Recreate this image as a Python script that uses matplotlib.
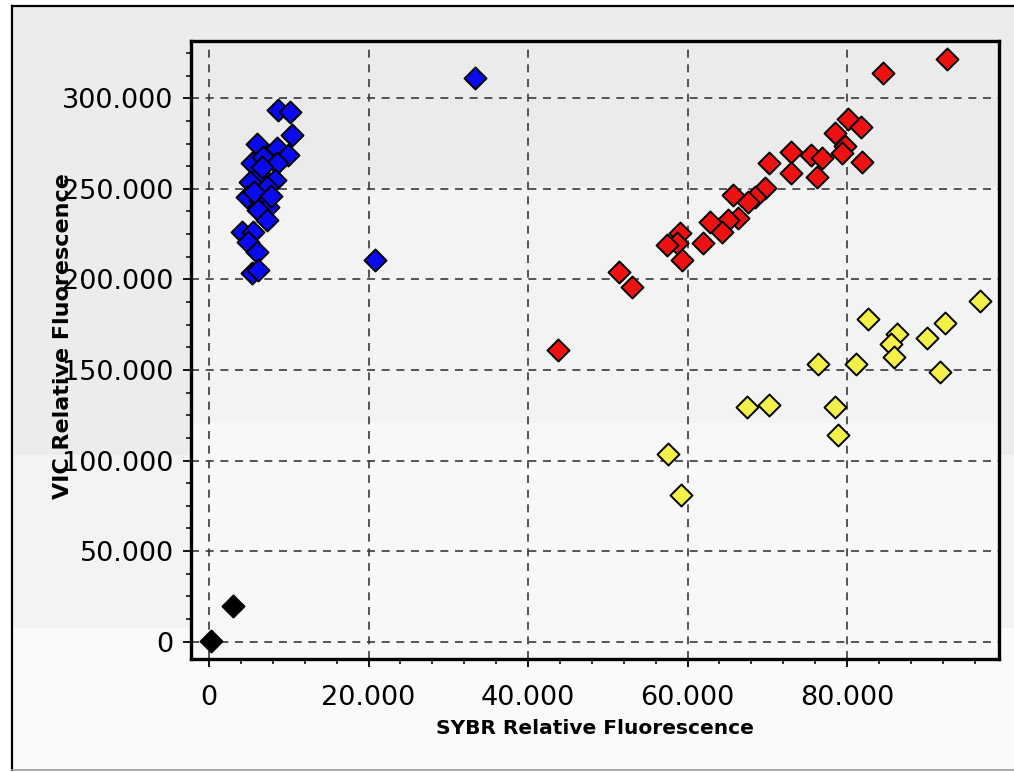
import numpy as np
import matplotlib
matplotlib.use("Agg")
import matplotlib.pyplot as plt
from matplotlib.patches import Rectangle
from matplotlib.lines import Line2D
from matplotlib.ticker import MultipleLocator, FuncFormatter

# SYBR (x) / VIC (y) relative fluorescence per cluster
ntc_x = [200, 3000]
ntc_y = [500, 19500]

vic_x = [8690, 10160, 10370, 5980, 8490, 9950, 5350, 6810, 8490, 6400,
         5140, 8280, 7230, 4730, 6400, 7440, 6190, 7230, 4100, 5560,
         4940, 5980, 5350, 6190, 5600, 6600, 7800, 20820, 33360]
vic_y = [293400, 292500, 279600, 275000, 272300, 268600, 264000, 267700, 264000, 257600,
         253900, 254800, 251100, 245600, 243800, 240100, 238300, 232700, 226300, 226300,
         220800, 215200, 203300, 205100, 248000, 262000, 246000, 210700, 311000]

het_x = [92500, 84560, 80170, 81720, 78500, 79770, 79350, 81930, 73000, 75440,
         76830, 73000, 76290, 70260, 69730, 68480, 67640, 65760, 66390, 65130,
         64300, 62830, 61990, 59060, 58640, 57390, 59270, 51350, 53030, 43820]
het_y = [321400, 314000, 288300, 283900, 280600, 273600, 269500, 264900, 270400, 268600,
         266800, 258800, 256300, 264000, 250200, 245600, 242800, 246500, 233700, 232700,
         226300, 231800, 219900, 225400, 219900, 218900, 210700, 204200, 195900, 161000]

fam_x = [96690, 82680, 92310, 86240, 85490, 90000, 85850, 76420, 81140, 91680,
         67410, 70260, 78500, 78920, 57590, 59140]
fam_y = [188200, 177900, 176100, 169800, 164300, 167400, 157000, 153300, 153300, 149000,
         129400, 130600, 129400, 114100, 103600, 81000]

W, H = 1014, 772
fig = plt.figure(figsize=(W / 100, H / 100), dpi=100)
fig.patch.set_facecolor("white")

# background bands of the panel
fx0 = 12 / W
for top, bot, col in [(6, 455, "#ececec"), (455, 628, "#f3f3f3"), (628, 770, "#fafafa")]:
    fig.patches.append(Rectangle((fx0, 1 - bot / H), 1 - fx0, (bot - top) / H,
                                 transform=fig.transFigure, facecolor=col,
                                 edgecolor="none", zorder=-10))
fig.lines.append(Line2D([fx0, fx0], [1 - 6 / H, 1 - 770 / H], transform=fig.transFigure,
                        color="black", lw=1.6))
fig.lines.append(Line2D([fx0, 1], [1 - 6 / H, 1 - 6 / H], transform=fig.transFigure,
                        color="black", lw=1.6))
fig.lines.append(Line2D([fx0, 1], [1 - 770 / H, 1 - 770 / H], transform=fig.transFigure,
                        color="#999999", lw=1.2))

ax = fig.add_axes([191 / W, 1 - 659 / H, 808 / W, 618 / H])
ax.set_facecolor("none")
for y0, y1, col in [(0.7638, 1.0, "#ebebeb"), (0.3819, 0.7638, "#f3f3f3"), (0.0, 0.3819, "#f8f8f8")]:
    ax.add_patch(Rectangle((0, y0), 1, y1 - y0, transform=ax.transAxes,
                           facecolor=col, edgecolor="none", zorder=0))

mk = dict(marker="D", s=125, edgecolors="black", linewidths=1.4, zorder=3)
ax.scatter(ntc_x, ntc_y, c="black", **mk)
ax.scatter(vic_x, vic_y, c="#0a0aee", **mk)
ax.scatter(het_x, het_y, c="#ee1111", **mk)
ax.scatter(fam_x, fam_y, c="#f4f04a", **mk)

ax.set_xlim(-2260, 99060)
ax.set_ylim(-9550, 331600)

ax.xaxis.set_major_locator(MultipleLocator(20000))
ax.xaxis.set_minor_locator(MultipleLocator(4000))
ax.yaxis.set_major_locator(MultipleLocator(50000))
ax.yaxis.set_minor_locator(MultipleLocator(12500))
fmt = FuncFormatter(lambda v, p: f"{v:,.0f}".replace(",", "."))
ax.xaxis.set_major_formatter(fmt)
ax.yaxis.set_major_formatter(fmt)

ax.tick_params(axis="both", which="major", direction="out", length=6, width=1.3,
               labelsize=19.5, colors="black")
ax.tick_params(axis="both", which="minor", direction="out", length=3.5, width=1.1)
ax.tick_params(axis="x", which="major", pad=13)
ax.tick_params(axis="y", which="major", pad=6.5)

ax.grid(True, which="major", color="#3a3a3a", lw=1.2, linestyle=(0, (4.8, 4)))
ax.set_axisbelow(True)
for sp in ax.spines.values():
    sp.set_linewidth(2.4)
    sp.set_color("black")

ax.set_xlabel("SYBR Relative Fluorescence", fontsize=14.5, fontweight="bold", va="center")
ax.xaxis.set_label_coords(0.5, -0.1117)
ax.set_ylabel("VIC Relative Fluorescence", fontsize=16, fontweight="bold", va="center")
ax.yaxis.set_label_coords(-0.158, 0.522)

fig.savefig("out.png", dpi=100, facecolor=fig.get_facecolor())
